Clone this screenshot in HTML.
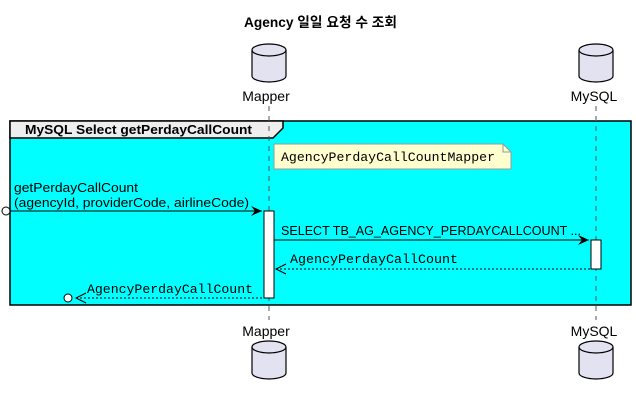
<!DOCTYPE html>
<html><head><meta charset="utf-8"><style>
html,body{margin:0;padding:0;background:#fff;}
svg{display:block}
.s{font-family:"Liberation Sans","Noto Sans CJK KR",sans-serif;}
.m{font-family:"Liberation Mono","DejaVu Sans Mono",monospace;}
</style></head><body>
<svg width="636" height="401" viewBox="0 0 636 401" xmlns="http://www.w3.org/2000/svg">
<text x="244" y="27" class="s" font-size="13.5" font-weight="bold" textLength="153" lengthAdjust="spacingAndGlyphs">Agency 일일 요청 수 조회</text>
<rect x="10" y="121" width="621" height="184" fill="#00ffff" stroke="#000" stroke-width="1.5"/>
<path d="M10,121 L283,121 L283,128 L273,138 L10,138 Z" fill="#eeeeee" stroke="#000" stroke-width="1.5"/>
<text x="25" y="134" class="s" font-size="13" font-weight="bold" textLength="227" lengthAdjust="spacingAndGlyphs">MySQL Select getPerdayCallCount</text>
<line x1="269" y1="106" x2="269" y2="320" stroke="#555" stroke-dasharray="5,5"/>
<line x1="596" y1="106" x2="596" y2="320" stroke="#555" stroke-dasharray="5,5"/>
<g fill="#e2e2f0" stroke="#000" stroke-width="1.2">
<path d="M252,50 L252,76 A17,6 0 0 0 286,76 L286,50 A17,6 0 0 0 252,50 Z"/><path d="M252,50 A17,6 0 0 0 286,50" fill="none"/>
<path d="M579,50 L579,76 A17,6 0 0 0 613,76 L613,50 A17,6 0 0 0 579,50 Z"/><path d="M579,50 A17,6 0 0 0 613,50" fill="none"/>
<path d="M252,347 L252,373 A17,6 0 0 0 286,373 L286,347 A17,6 0 0 0 252,347 Z"/><path d="M252,347 A17,6 0 0 0 286,347" fill="none"/>
<path d="M579,347 L579,373 A17,6 0 0 0 613,373 L613,347 A17,6 0 0 0 579,347 Z"/><path d="M579,347 A17,6 0 0 0 613,347" fill="none"/>
</g>
<text x="266" y="101" class="s" font-size="14" text-anchor="middle">Mapper</text>
<text x="594" y="101" class="s" font-size="14" text-anchor="middle">MySQL</text>
<text x="266" y="336" class="s" font-size="14" text-anchor="middle">Mapper</text>
<text x="594" y="336" class="s" font-size="14" text-anchor="middle">MySQL</text>
<path d="M274,144 L503,144 L511,152 L511,169 L274,169 Z" fill="#fefece" stroke="#999"/>
<path d="M503,144 L503,152 L511,152" fill="none" stroke="#999"/>
<text x="281" y="161" class="m" font-size="13" textLength="214" lengthAdjust="spacingAndGlyphs">AgencyPerdayCallCountMapper</text>
<rect x="264" y="211" width="10" height="87" fill="#fff" stroke="#000"/>
<rect x="591" y="240" width="10" height="29" fill="#fff" stroke="#000"/>
<circle cx="6" cy="211" r="4" fill="#fff" stroke="#000"/>
<line x1="10" y1="211" x2="262" y2="211" stroke="#000"/>
<path d="M262,211 L251,206 L255,211 L251,216 Z" fill="#000"/>
<text x="14" y="192" class="s" font-size="13" textLength="124" lengthAdjust="spacingAndGlyphs">getPerdayCallCount</text>
<text x="14" y="207" class="s" font-size="13" textLength="235" lengthAdjust="spacingAndGlyphs">(agencyId, providerCode, airlineCode)</text>
<line x1="274" y1="240" x2="589" y2="240" stroke="#000"/>
<path d="M589,240 L578,235 L582,240 L578,245 Z" fill="#000"/>
<text x="281" y="235" class="s" font-size="13" textLength="300" lengthAdjust="spacingAndGlyphs">SELECT TB_AG_AGENCY_PERDAYCALLCOUNT ...</text>
<line x1="276" y1="269" x2="591" y2="269" stroke="#000" stroke-dasharray="2,2"/>
<path d="M286,264 L276,269 L286,274" fill="none" stroke="#000"/>
<text x="290" y="263" class="m" font-size="13" textLength="168" lengthAdjust="spacingAndGlyphs">AgencyPerdayCallCount</text>
<line x1="76" y1="298" x2="264" y2="298" stroke="#000" stroke-dasharray="2,2"/>
<path d="M86,293 L76,298 L86,303" fill="none" stroke="#000"/>
<circle cx="68" cy="298" r="4" fill="#fff" stroke="#000"/>
<text x="87" y="293" class="m" font-size="13" textLength="166" lengthAdjust="spacingAndGlyphs">AgencyPerdayCallCount</text>
</svg>
</body></html>
